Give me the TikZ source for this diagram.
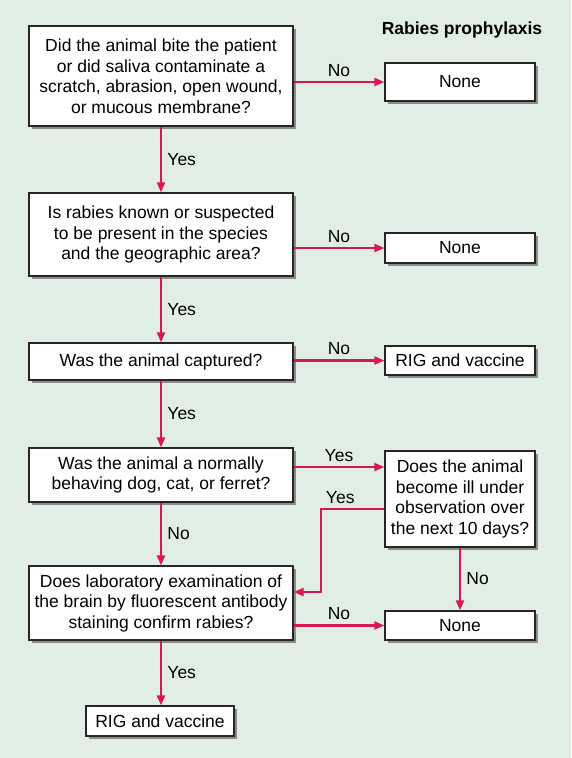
\documentclass[tikz,border=0pt]{standalone}
\usepackage{fontspec}
\setmainfont{Liberation Sans}
\usetikzlibrary{arrows.meta,shadows}

\definecolor{bgmint}{HTML}{E0EEE5}
\definecolor{arrowred}{HTML}{D7194F}

\tikzset{
  qbox/.style={draw=black!85, line width=1.3pt, fill=white, align=center,
    inner sep=0pt, minimum width=264pt, font=\fontsize{17.5}{20.5}\selectfont,
    drop shadow={shadow xshift=2.5pt, shadow yshift=-2.5pt, fill=black!45, opacity=1}},
  abox/.style={qbox, minimum width=150pt},
  flow/.style={draw=arrowred, line width=2.2pt, -{Triangle[length=10pt,width=8pt]}},
  lbl/.style={font=\fontsize{17.5}{20}\selectfont},
}

\begin{document}
\begin{tikzpicture}[x=1pt,y=-1pt]
\fill[bgmint] (0,0) rectangle (571,758);
\useasboundingbox (0,0) rectangle (571,758);

\node[font=\bfseries\fontsize{17.5}{20}\selectfont] (title) at (462,30) {Rabies prophylaxis};

% questions
\node[qbox, minimum height=100pt] (bite) at (161,76)
  {Did the animal bite the patient\\or did saliva contaminate a\\scratch, abrasion, open wound,\\or mucous membrane?};
\node[qbox, minimum height=83pt] (area) at (161,234.5)
  {Is rabies known or suspected\\to be present in the species\\and the geographic area?};
\node[qbox, minimum height=37pt] (capt) at (161,361.5) {Was the animal captured?};
\node[qbox, minimum height=54pt] (pet) at (161,475)
  {Was the animal a normally\\behaving dog, cat, or ferret?};
\node[qbox, minimum height=74pt] (lab) at (161,603)
  {Does laboratory examination of\\the brain by fluorescent antibody\\staining confirm rabies?};

% answers
\node[abox, minimum height=38pt] (none1) at (460,82) {None};
\node[abox, minimum height=30pt] (none2) at (460,248) {None};
\node[abox, minimum height=29pt] (rig1) at (460,360.5) {RIG and vaccine};
\node[abox, minimum height=96pt] (obs) at (460,499)
  {Does the animal\\become ill under\\observation over\\the next 10 days?};
\node[abox, minimum height=29pt] (none3) at (460,625.5) {None};
\node[abox, minimum width=148pt, minimum height=30pt] (rig2) at (160,721) {RIG and vaccine};

% connectors
\draw[flow] (bite) -- node[lbl, right=2pt] {Yes} (area);
\draw[flow] (area) -- node[lbl, right=2pt] {Yes} (capt);
\draw[flow] (capt) -- node[lbl, right=2pt] {Yes} (pet);
\draw[flow] (pet) -- node[lbl, right=2pt] {No} (lab);
\draw[flow] (lab.south) -- node[lbl, right=2pt] {Yes} (lab.south |- rig2.north);
\draw[flow] (none1 -| bite.east) -- node[lbl, above=1pt] {No} (none1);
\draw[flow] (none2 -| area.east) -- node[lbl, above=1pt] {No} (none2);
\draw[flow] (rig1 -| capt.east) -- node[lbl, above=1pt] {No} (rig1);
\coordinate (petyes) at ([yshift=8pt]pet.east);
\draw[flow] (petyes) -- node[lbl, above=1pt] {Yes} (petyes -| obs.west);
\coordinate (obsyes) at ([yshift=-10pt]obs.west);
\coordinate (labin) at ([yshift=11pt]lab.east);
\draw[flow] (obsyes) -- node[lbl, above=1pt, pos=0.7] {Yes} ++(-63,0) |- (labin);
\draw[flow] (obs) -- node[lbl, right=2pt] {No} (none3);
\draw[flow] (none3 -| lab.east) -- node[lbl, above=1pt] {No} (none3);
\end{tikzpicture}
\end{document}
